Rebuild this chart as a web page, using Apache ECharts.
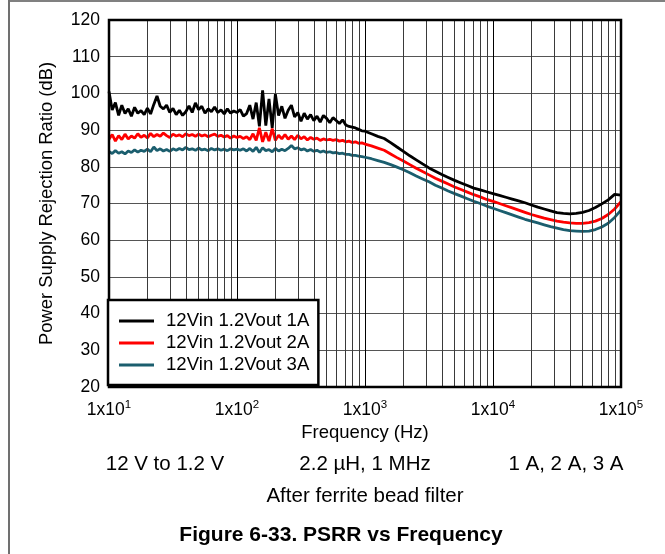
<!DOCTYPE html>
<html>
<head>
<meta charset="utf-8">
<script src="https://cdn.jsdelivr.net/npm/echarts@6/dist/echarts.min.js"></script>
<style>
html,body{margin:0;padding:0;background:#fff;}
#chart{width:665px;height:554px;}
</style>
</head>
<body>
<div id="chart"></div>
<script>
// Frequency points (Hz)
const freq = [
 10, 10.59, 11.22, 11.89, 12.59, 13.34, 14.13, 14.96, 15.85, 16.79, 17.78, 18.84, 19.95, 21.13, 22.39, 23.71, 25.12, 26.61, 28.18, 29.85,
 31.62, 33.5, 35.48, 37.58, 39.81, 42.17, 44.67, 47.32, 50.12, 53.09, 56.23, 59.57, 63.1, 66.83, 70.79, 74.99, 79.43, 84.14, 89.13, 94.41,
 100, 105.9, 112.2, 118.9, 125.9, 133.4, 141.3, 149.6, 158.5, 167.9, 177.8, 188.4, 199.5, 211.3, 223.9, 237.1, 251.2, 266.1, 281.8, 298.5,
 316.2, 335, 354.8, 375.8, 398.1, 421.7, 446.7, 473.2, 501.2, 530.9, 562.3, 595.7, 631, 668.3, 707.9, 749.9, 794.3, 841.4, 891.3, 944.1,
 1000, 1122, 1259, 1413, 1585, 1778, 1995, 2239, 2512, 2818, 3162, 3548, 3981, 4467, 5012, 5623, 6310, 7079, 7943, 8913,
 10000, 11220, 12590, 14130, 15850, 17780, 19950, 22390, 25120, 28180, 31620, 35480, 39810, 44670, 50120, 56230, 63100, 70790, 79430, 89130, 100000
];
// PSRR (dB), 12Vin 1.2Vout 1A
const psrr1A = [
 100.5, 95.5, 97.5, 94.0, 96.8, 94.5, 95.8, 93.8, 96.2, 94.6, 95.3, 94.2, 96.0, 94.4, 97.0, 99.3, 96.5, 95.8, 96.8, 94.8,
 95.9, 94.2, 95.4, 94.0, 95.0, 96.6, 94.8, 97.4, 95.6, 96.5, 94.6, 95.8, 95.0, 96.3, 94.8, 95.5, 94.4, 95.8, 94.6, 95.2,
 94.8, 95.6, 93.8, 94.5, 96.8, 93.0, 97.5, 91.0, 100.8, 91.2, 98.5, 90.6, 99.8, 94.0, 96.5, 93.2, 95.4, 96.8, 93.6, 94.8,
 92.4, 94.6, 93.0, 94.2, 92.6, 93.8, 92.2, 94.0, 93.2, 92.0, 93.4, 92.6, 91.8, 92.8, 91.4, 91.0, 90.8, 90.6, 90.2, 89.8,
 89.7, 89.0, 88.3, 87.7, 86.6, 85.4, 84.2, 83.0, 81.9, 80.8, 79.7, 78.8, 77.9, 77.1, 76.3, 75.6, 74.9, 74.2, 73.7, 73.2,
 72.7, 72.2, 71.7, 71.2, 70.7, 70.2, 69.6, 69.0, 68.5, 68.0, 67.5, 67.3, 67.2, 67.3, 67.6, 68.1, 68.9, 69.9, 71.0, 72.5, 72.3
];
// PSRR (dB), 12Vin 1.2Vout 2A
const psrr2A = [
 87.5, 88.8, 87.0, 88.5, 87.4, 88.9, 87.6, 88.4, 87.8, 89.0, 88.0, 88.6, 87.9, 89.1, 88.2, 88.8, 88.3, 89.2, 88.5, 88.0,
 88.9, 88.4, 88.7, 88.2, 89.0, 88.5, 88.8, 88.3, 88.9, 88.4, 88.7, 88.2, 88.6, 88.9, 88.3, 88.6, 88.1, 88.5, 87.8, 88.4,
 88.0, 88.3, 87.7, 88.2, 87.4, 89.0, 87.2, 90.6, 86.8, 89.4, 87.0, 90.4, 87.2, 88.6, 87.6, 88.8, 87.5, 88.4, 87.4, 88.6,
 87.6, 88.2, 87.3, 88.0, 87.5, 87.8, 87.2, 87.6, 87.3, 87.5, 87.2, 87.4, 87.0, 87.2, 86.8, 87.0, 86.6, 86.8, 86.4, 86.5,
 86.2, 85.7, 85.1, 84.5, 83.5, 82.5, 81.6, 80.6, 79.6, 78.7, 77.8, 76.9, 76.1, 75.3, 74.5, 73.8, 73.1, 72.4, 71.8, 71.1,
 70.6, 70.0, 69.4, 68.8, 68.2, 67.6, 67.0, 66.5, 66.0, 65.6, 65.2, 64.9, 64.7, 64.6, 64.6, 64.8, 65.2, 65.9, 67.0, 68.5, 70.5
];
// PSRR (dB), 12Vin 1.2Vout 3A
const psrr3A = [
 84.2, 83.6, 84.4, 83.7, 84.1, 83.5, 84.3, 83.9, 84.6, 84.0, 84.5, 84.2, 84.8, 84.1, 85.4, 84.4, 84.9, 84.3, 84.7, 84.2,
 84.9, 84.5, 85.0, 84.6, 85.3, 84.7, 84.9, 84.5, 85.1, 84.6, 84.8, 84.4, 85.0, 84.6, 84.9, 84.5, 84.8, 84.4, 84.9, 84.6,
 84.8, 84.5, 84.9, 84.3, 85.0, 84.2, 85.3, 83.9, 85.2, 84.4, 84.7, 84.1, 85.0, 84.3, 84.8, 84.4, 85.0, 85.8, 84.9, 85.2,
 84.6, 84.9, 84.3, 84.7, 84.2, 84.5, 84.0, 84.3, 83.9, 84.1, 83.8, 83.9, 83.6, 83.7, 83.4, 83.4, 83.1, 83.1, 82.9, 82.8,
 82.6, 82.2, 81.7, 81.2, 80.6, 79.9, 79.2, 78.4, 77.5, 76.7, 75.9, 75.0, 74.2, 73.4, 72.7, 72.0, 71.3, 70.6, 70.0, 69.3,
 68.7, 68.1, 67.5, 66.9, 66.3, 65.7, 65.2, 64.7, 64.2, 63.7, 63.3, 62.9, 62.6, 62.5, 62.4, 62.5, 62.9, 63.6, 64.6, 66.2, 68.2
];
const seriesNames = ['12Vin 1.2Vout 1A', '12Vin 1.2Vout 2A', '12Vin 1.2Vout 3A'];
const seriesColors = ['#000000', '#ff0000', '#1b5e6e'];
// minor vertical grid positions (Hz)
const minorFreqs = [20,30,40,50,60,70,80,90,200,300,400,500,600,700,800,900,2000,3000,4000,5000,6000,7000,8000,9000,20000,30000,40000,50000,60000,70000,80000,90000];
const yTicks = {min: 20, max: 120, step: 10};
const noteTexts = ['12 V to 1.2 V', '2.2 \u00b5H, 1 MHz', '1 A, 2 A, 3 A'];
const noteText2 = 'After ferrite bead filter';
const figTitle = 'Figure 6-33. PSRR vs Frequency';

const FONT = '"Liberation Sans", Arial, Helvetica, sans-serif';
const chart = echarts.init(document.getElementById('chart'), null, {renderer: 'canvas'});

const allSeries = [psrr1A, psrr2A, psrr3A];
const series = [{
  name: 'minor', type: 'line', data: [], z: 1, silent: true,
  markLine: {
    silent: true, symbol: 'none', animation: false,
    label: {show: false},
    lineStyle: {color: '#3a3a3a', width: 1, type: 'solid'},
    emphasis: {disabled: true},
    data: minorFreqs.map(f => ({xAxis: f}))
  }
}];
allSeries.forEach((vals, k) => {
  series.push({
    name: seriesNames[k], type: 'line', z: 5 - k,
    showSymbol: false, symbol: 'none',
    lineStyle: {color: seriesColors[k], width: 2.8},
    itemStyle: {color: seriesColors[k]},
    data: freq.map((f, i) => [f, vals[i]])
  });
});

const option = {
  animation: false,
  backgroundColor: '#fff',
  grid: {left: 109, top: 20, right: 44, bottom: 167, show: true, borderColor: '#000', borderWidth: 2.5, z: 10},
  xAxis: {
    type: 'log', logBase: 10, min: 10, max: 100000,
    name: 'Frequency (Hz)', nameLocation: 'middle', nameGap: 34,
    nameTextStyle: {fontSize: 18.5, fontFamily: FONT, color: '#000'},
    axisLine: {show: false}, axisTick: {show: false},
    splitLine: {show: true, lineStyle: {color: '#000', width: 1}},
    minorTick: {show: false}, minorSplitLine: {show: false},
    axisLabel: {
      margin: 12, color: '#000',
      formatter: v => '{m|1x10}{s|' + Math.round(Math.log10(v)) + '}',
      rich: {
        m: {fontSize: 17.5, fontFamily: FONT, color: '#000', lineHeight: 22},
        s: {fontSize: 11.5, fontFamily: FONT, color: '#000', lineHeight: 12, verticalAlign: 'top'}
      }
    }
  },
  yAxis: {
    type: 'value', min: yTicks.min, max: yTicks.max, interval: yTicks.step,
    name: 'Power Supply Rejection Ratio (dB)', nameLocation: 'middle', nameGap: 53,
    nameTextStyle: {fontSize: 18.4, fontFamily: FONT, color: '#000'},
    axisLine: {show: false}, axisTick: {show: false},
    splitLine: {show: true, lineStyle: {color: '#555', width: 1}},
    axisLabel: {margin: 9, fontSize: 17.5, fontFamily: FONT, color: '#000'}
  },
  legend: {
    data: seriesNames.map(n => ({name: n, icon: 'rect'})),
    orient: 'vertical', left: 108, top: 300,
    backgroundColor: '#fff', borderColor: '#000', borderWidth: 2.5, borderRadius: 0,
    padding: [11, 9, 10, 11],
    itemWidth: 35, itemHeight: 3, itemGap: 2,
    textStyle: {fontSize: 18.6, fontFamily: FONT, color: '#000', padding: [0, 0, 0, 7], lineHeight: 20},
    selectedMode: false, z: 20
  },
  graphic: [
    {type: 'line', shape: {x1: 8, y1: 1, x2: 665, y2: 1}, style: {stroke: '#808080', lineWidth: 2}, silent: true},
    {type: 'line', shape: {x1: 9, y1: 0, x2: 9, y2: 554}, style: {stroke: '#707070', lineWidth: 2}, silent: true},
    {type: 'text', x: 165, y: 464, style: {text: noteTexts[0], font: '20.5px ' + FONT, fill: '#000', align: 'center', verticalAlign: 'middle'}},
    {type: 'text', x: 365, y: 464, style: {text: noteTexts[1], font: '20.5px ' + FONT, fill: '#000', align: 'center', verticalAlign: 'middle'}},
    {type: 'text', x: 566, y: 464, style: {text: noteTexts[2], font: '20.5px ' + FONT, fill: '#000', align: 'center', verticalAlign: 'middle'}},
    {type: 'text', x: 365, y: 496, style: {text: noteText2, font: '20.5px ' + FONT, fill: '#000', align: 'center', verticalAlign: 'middle'}},
    {type: 'text', x: 341, y: 535, style: {text: figTitle, font: 'bold 21px ' + FONT, fill: '#000', align: 'center', verticalAlign: 'middle'}}
  ],
  series: series
};
chart.setOption(option);
</script>
</body>
</html>
